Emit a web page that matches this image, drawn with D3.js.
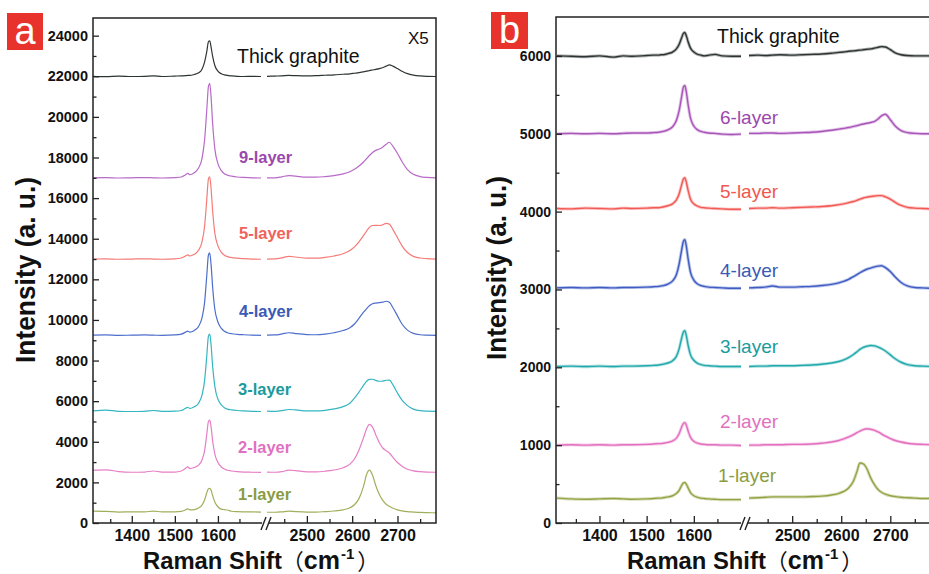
<!DOCTYPE html>
<html><head><meta charset="utf-8">
<script src="https://cdn.jsdelivr.net/npm/d3@7"></script>
<style>
body{margin:0;background:#fff}
svg{display:block}
text{font-family:"Liberation Sans",Arial,"Noto Sans CJK SC",sans-serif}
</style>
</head><body>
<svg id="chart" width="929" height="574"></svg>
<script>
// ---------- DATA (Raman shift grids, cm-1) ----------
const xsLow  = [1310,1340,1370,1400,1430,1450,1470,1500,1515,1525,1530,1535,1545,1555,1563,1569,1574,1578,1581,1584,1588,1593,1600,1608,1615,1622,1632,1645,1660,1680,1700];
const xsHigh = [2412,2430,2445,2460,2475,2500,2520,2540,2560,2580,2595,2605,2615,2625,2632,2638,2645,2652,2660,2668,2675,2682,2690,2700,2710,2722,2735,2750,2765,2785];

const xTicksLow = [1400,1500,1600];
const xTicksHigh = [2500,2600,2700];
const xMinorLow = [1350,1450,1550,1650];
const xMinorHigh = [2450,2550,2650,2750];

const yTicksA = [0,2000,4000,6000,8000,10000,12000,14000,16000,18000,20000,22000,24000];
const yMinorA = [1000,3000,5000,7000,9000,11000,13000,15000,17000,19000,21000,23000];
const yTicksB = [0,1000,2000,3000,4000,5000,6000];
const yMinorB = [500,1500,2500,3500,4500,5500];

const labelsA = ["Thick graphite","9-layer","5-layer","4-layer","3-layer","2-layer","1-layer"];
const labelsB = ["Thick graphite","6-layer","5-layer","4-layer","3-layer","2-layer","1-layer"];

// Panel a (x5 thick graphite), intensities
const aThickLow  = [22000,21980,22010,21990,22000,22020,21990,22010,22020,22030,22040,22040,22090,22170,22350,22700,23200,23700,23750,23450,22950,22520,22250,22120,22070,22040,22020,22000,21990,22000,21990];
const aThickHigh = [22000,22010,22020,22040,22030,22020,22030,22050,22070,22100,22120,22150,22180,22220,22250,22280,22310,22340,22380,22430,22500,22560,22500,22380,22250,22130,22060,22020,22000,21990];
const a9Low  = [17000,17010,16990,17000,17010,17000,16990,17010,17040,17150,17220,17150,17250,17480,17950,18850,20300,21500,21650,21000,19600,18400,17700,17350,17200,17130,17080,17040,17020,17000,16990];
const a9High = [17000,17000,17050,17110,17080,17030,17030,17060,17110,17190,17300,17420,17580,17780,17950,18100,18250,18350,18420,18520,18650,18750,18550,18200,17800,17400,17170,17060,17020,17000];
const a5Low  = [13000,13010,12990,13000,13010,13000,12990,13010,13050,13150,13200,13150,13230,13430,13850,14600,15900,16950,17050,16500,15300,14250,13650,13330,13190,13120,13070,13040,13020,13000,12990];
const a5High = [13000,13010,13060,13130,13100,13040,13040,13080,13150,13260,13420,13600,13850,14150,14380,14560,14650,14660,14650,14690,14760,14720,14450,14050,13650,13320,13130,13050,13020,13000];
const a4Low  = [9250,9260,9240,9250,9260,9250,9240,9260,9300,9400,9450,9400,9480,9680,10100,10850,12150,13200,13300,12750,11550,10500,9900,9580,9440,9370,9320,9290,9270,9250,9240];
const a4High = [9250,9260,9310,9370,9330,9280,9270,9300,9370,9480,9620,9800,10080,10380,10560,10700,10800,10830,10850,10880,10920,10870,10600,10200,9800,9500,9340,9270,9250,9240];
const a3Low  = [5520,5560,5500,5490,5500,5540,5500,5510,5540,5650,5700,5640,5720,5900,6300,7000,8200,9200,9300,8800,7650,6700,6100,5820,5680,5610,5570,5540,5520,5500,5490];
const a3High = [5510,5500,5530,5590,5570,5520,5520,5550,5620,5730,5900,6150,6450,6780,6980,7070,7080,7020,6980,6990,7030,7040,6800,6400,6050,5780,5610,5530,5510,5500];
const a2Low  = [2600,2620,2530,2500,2510,2560,2510,2510,2560,2700,2760,2680,2730,2850,3100,3550,4350,5000,5070,4750,4000,3380,2980,2760,2660,2600,2560,2530,2510,2500,2490];
const a2High = [2510,2500,2530,2600,2580,2520,2520,2550,2610,2720,2900,3150,3600,4200,4650,4860,4720,4350,3950,3680,3560,3450,3230,2980,2800,2650,2570,2530,2510,2500];
const a1Low  = [580,570,540,550,550,580,550,550,570,650,700,650,660,740,880,1130,1480,1690,1710,1620,1330,1020,800,680,660,640,580,560,550,545,540];
const a1High = [530,530,550,580,560,540,540,560,590,650,750,900,1200,1800,2400,2600,2350,1850,1400,1100,920,820,730,650,600,560,540,520,510,500];

// Panel b intensities
const bThickLow  = [6000,5995,5990,6000,5985,6000,5995,6005,6010,6010,6015,6015,6030,6050,6090,6150,6230,6290,6300,6260,6180,6100,6050,6020,6010,6000,6010,6020,6000,5995,5995];
const bThickHigh = [6005,6010,6005,6010,6015,6010,6015,6020,6025,6035,6045,6050,6060,6065,6070,6075,6080,6085,6090,6100,6110,6120,6115,6080,6040,6015,6005,6000,6000,6000];
const b6Low  = [5000,5005,5000,5005,5000,5005,5010,5010,5015,5020,5025,5030,5050,5090,5170,5300,5470,5600,5620,5540,5370,5200,5100,5050,5030,5020,5010,5005,4995,4990,4995];
const b6High = [5005,5005,5010,5010,5005,5010,5015,5020,5030,5045,5060,5070,5080,5095,5105,5115,5125,5135,5145,5160,5190,5230,5250,5180,5100,5040,5015,5005,5000,5000];
const b5Low  = [4040,4035,4045,4040,4035,4045,4040,4045,4050,4050,4055,4060,4075,4100,4150,4230,4340,4420,4435,4380,4270,4160,4100,4070,4055,4050,4045,4040,4035,4030,4030];
const b5High = [4040,4045,4045,4050,4045,4050,4055,4060,4065,4075,4090,4100,4115,4130,4145,4160,4175,4185,4195,4200,4205,4205,4190,4160,4120,4080,4055,4045,4040,4035];
const b4Low  = [3020,3025,3020,3025,3020,3025,3025,3030,3035,3040,3045,3050,3070,3110,3190,3330,3500,3620,3640,3560,3390,3220,3120,3070,3050,3040,3030,3025,3020,3015,3015];
const b4High = [3020,3025,3030,3045,3030,3030,3035,3040,3050,3065,3085,3105,3130,3165,3190,3215,3240,3260,3275,3290,3300,3305,3280,3230,3160,3090,3045,3025,3020,3015];
const b3Low  = [2010,2015,2010,2015,2010,2015,2015,2020,2025,2030,2035,2040,2055,2085,2140,2240,2370,2455,2470,2410,2280,2160,2090,2050,2035,2025,2020,2015,2010,2010,2010];
const b3High = [2010,2015,2015,2020,2020,2020,2025,2030,2040,2055,2075,2095,2125,2165,2200,2230,2255,2270,2280,2275,2260,2240,2210,2160,2110,2065,2035,2020,2015,2010];
const b2Low  = [1000,1005,1000,1005,1000,1005,1005,1010,1015,1020,1020,1025,1035,1055,1090,1150,1230,1280,1290,1260,1180,1100,1050,1025,1015,1010,1005,1005,1000,1000,995];
const b2High = [1000,1000,1005,1005,1005,1010,1010,1015,1025,1040,1060,1080,1105,1135,1160,1180,1200,1210,1205,1190,1170,1145,1115,1085,1060,1040,1025,1015,1010,1005];
const b1Low  = [320,310,305,310,315,310,305,310,315,320,320,325,335,350,380,420,480,515,520,500,450,390,350,330,320,315,310,305,300,300,300];
const b1High = [320,325,330,335,335,335,335,340,345,360,380,405,450,540,660,770,760,700,580,490,430,395,370,350,340,330,325,320,315,315];

// ---------- LAYOUT / STYLE ----------
const svg = d3.select("#chart");
svg.append("rect").attr("width",929).attr("height",574).attr("fill","#fff");

const panels = [
  {
    letter:"a", letterBox:[7,13,36,37],
    left:93, right:436, top:18, bottom:523,
    yDomain:[0,24870], lowRange:[93,261], highRange:[267,436],
    yTicks:yTicksA, yMinor:yMinorA, yFont:14.5,
    breakX:262,
    yTitle:{x:35,y:270,len:186}, xTitle:{x:143,y:569},
    series:[
      {low:aThickLow, high:aThickHigh, line:"#2e3434", lab:"#111"},
      {low:a9Low, high:a9High, line:"#b86ac8", lab:"#9a48ad"},
      {low:a5Low, high:a5High, line:"#f57b78", lab:"#f0625c"},
      {low:a4Low, high:a4High, line:"#4d6ecb", lab:"#3a5ab5"},
      {low:a3Low, high:a3High, line:"#35b6c0", lab:"#1a9a9c"},
      {low:a2Low, high:a2High, line:"#e67ec6", lab:"#e071c0"},
      {low:a1Low, high:a1High, line:"#9fb05c", lab:"#8b9c42"}
    ],
    labels:labelsA,
    labelPos:[[237,63],[239,163],[239,239],[239,317],[238,395],[238,453],[238,500]],
    labelStyle:[{size:19.5,weight:"normal"},{size:16.5,weight:"bold"}],
    strokeW:1.2, fuzz:0
  },
  {
    letter:"b", letterBox:[491,12,37,37],
    left:556, right:932, top:17, bottom:523,
    yDomain:[0,6500], lowRange:[557,741], highRange:[749,932],
    yTicks:yTicksB, yMinor:yMinorB, yFont:14,
    breakX:741,
    yTitle:{x:506,y:268,len:184}, xTitle:{x:627,y:569},
    series:[
      {low:bThickLow, high:bThickHigh, line:"#2e3434", lab:"#111"},
      {low:b6Low, high:b6High, line:"#a955ba", lab:"#9a48ad"},
      {low:b5Low, high:b5High, line:"#f25a55", lab:"#f0584f"},
      {low:b4Low, high:b4High, line:"#3f5cc2", lab:"#3a5ab5"},
      {low:b3Low, high:b3High, line:"#22a9ab", lab:"#1a9a9c"},
      {low:b2Low, high:b2High, line:"#e36fbf", lab:"#e071c0"},
      {low:b1Low, high:b1High, line:"#93a444", lab:"#8b9c42"}
    ],
    labels:labelsB,
    labelPos:[[717,43],[720,124],[720,198],[720,277],[720,353],[720,428],[718,482]],
    labelStyle:[{size:19.5,weight:"normal"},{size:19,weight:"normal"}],
    strokeW:1.4, fuzz:3.2
  }
];

const axisColor = "#222";

panels.forEach(p => {
  const g = svg.append("g");
  const y = d3.scaleLinear().domain(p.yDomain).range([p.bottom, p.top]);
  const xL = d3.scaleLinear().domain([xsLow[0], xsLow[xsLow.length-1]]).range(p.lowRange);
  const xH = d3.scaleLinear().domain([xsHigh[0], xsHigh[xsHigh.length-1]]).range(p.highRange);

  // spectra
  const lineL = d3.line().x((d,i)=>xL(xsLow[i])).y(d=>y(d)).curve(d3.curveMonotoneX);
  const lineH = d3.line().x((d,i)=>xH(xsHigh[i])).y(d=>y(d)).curve(d3.curveMonotoneX);
  p.series.forEach(s => {
    [lineL(s.low), lineH(s.high)].forEach(dPath => {
      if (p.fuzz > 0) {
        g.append("path").attr("d", dPath).attr("fill","none").attr("stroke", s.line)
          .attr("stroke-width", p.fuzz).attr("stroke-opacity",0.35).attr("stroke-linejoin","round");
      }
      g.append("path").attr("d", dPath).attr("fill","none").attr("stroke", s.line)
        .attr("stroke-width", p.strokeW).attr("stroke-linejoin","round");
    });
  });

  // frame
  g.append("rect").attr("x",p.left).attr("y",p.top).attr("width",p.right-p.left).attr("height",p.bottom-p.top)
    .attr("fill","none").attr("stroke",axisColor).attr("stroke-width",1.5);

  // y axis
  const yAx = g.append("g").attr("transform",`translate(${p.left},0)`)
    .call(d3.axisLeft(y).tickValues(p.yTicks).tickSizeInner(-6).tickSizeOuter(0).tickPadding(5).tickFormat(d3.format("d")));
  const yMin = g.append("g").attr("transform",`translate(${p.left},0)`)
    .call(d3.axisLeft(y).tickValues(p.yMinor).tickSizeInner(-3.5).tickSizeOuter(0).tickFormat(""));
  [yAx,yMin].forEach(a => { a.select(".domain").remove(); a.selectAll("line").attr("stroke",axisColor).attr("stroke-width",1.3); });
  yAx.selectAll("text").attr("font-size",p.yFont).attr("font-weight","bold").attr("fill","#111")
    .attr("font-family",'"Liberation Sans",Arial,sans-serif');

  // x axes (two segments)
  [[xL,xTicksLow,xMinorLow],[xH,xTicksHigh,xMinorHigh]].forEach(([sc,maj,mn]) => {
    const ax = g.append("g").attr("transform",`translate(0,${p.bottom})`)
      .call(d3.axisBottom(sc).tickValues(maj).tickSizeInner(-7).tickSizeOuter(0).tickPadding(7).tickFormat(d3.format("d")));
    const am = g.append("g").attr("transform",`translate(0,${p.bottom})`)
      .call(d3.axisBottom(sc).tickValues(mn).tickSizeInner(-4).tickSizeOuter(0).tickFormat(""));
    [ax,am].forEach(a => { a.select(".domain").remove(); a.selectAll("line").attr("stroke",axisColor).attr("stroke-width",1.3); });
    ax.selectAll("text").attr("font-size",16).attr("font-weight","bold").attr("fill","#111")
      .attr("font-family",'"Liberation Sans",Arial,sans-serif');
  });

  // axis break marks
  const bx = p.breakX;
  g.append("rect").attr("x",bx).attr("y",p.bottom-2).attr("width",7).attr("height",4).attr("fill","#fff");
  [0,5].forEach(o => {
    g.append("line").attr("x1",bx+o-1).attr("y1",p.bottom+7).attr("x2",bx+o+4).attr("y2",p.bottom-6)
      .attr("stroke",axisColor).attr("stroke-width",1.4);
  });

  // labels
  p.labels.forEach((t,i) => {
    const st = i===0 ? p.labelStyle[0] : p.labelStyle[1];
    g.append("text").attr("x",p.labelPos[i][0]).attr("y",p.labelPos[i][1])
      .attr("font-size",st.size).attr("font-weight",st.weight).attr("fill",p.series[i].lab).text(t);
  });

  // y title
  g.append("text").attr("transform",`translate(${p.yTitle.x},${p.yTitle.y}) rotate(-90)`)
    .attr("text-anchor","middle").attr("font-size",27).attr("font-weight","bold").attr("fill","#111")
    .attr("textLength",p.yTitle.len).attr("lengthAdjust","spacingAndGlyphs")
    .text("Intensity (a. u.)");

  // x title
  const xt = g.append("text").attr("x",p.xTitle.x).attr("y",p.xTitle.y)
    .attr("font-size",23.8).attr("font-weight","bold").attr("fill","#111");
  xt.append("tspan").text("Raman Shift");
  xt.append("tspan").attr("font-family",'"Noto Sans CJK SC",sans-serif').attr("font-weight","normal").attr("font-size",22).text("（");
  xt.append("tspan").attr("font-size",25).text("cm");
  xt.append("tspan").attr("font-size",15).attr("dx",1).attr("dy",-10).text("-1");
  xt.append("tspan").attr("font-family",'"Noto Sans CJK SC",sans-serif').attr("font-weight","normal").attr("font-size",22).attr("dx",3).attr("dy",10).text("）");

  // panel letter
  const [lx,ly,lw,lh] = p.letterBox;
  g.append("rect").attr("x",lx).attr("y",ly).attr("width",lw).attr("height",lh).attr("fill","#e8332d");
  g.append("text").attr("x",lx+lw/2).attr("y",ly+lh-6).attr("text-anchor","middle")
    .attr("font-size",38).attr("fill","#fff").text(p.letter);
});

// X5 note on panel a
svg.append("text").attr("x",408).attr("y",44).attr("font-size",17).attr("fill","#111").text("X5");
</script>
</body></html>
